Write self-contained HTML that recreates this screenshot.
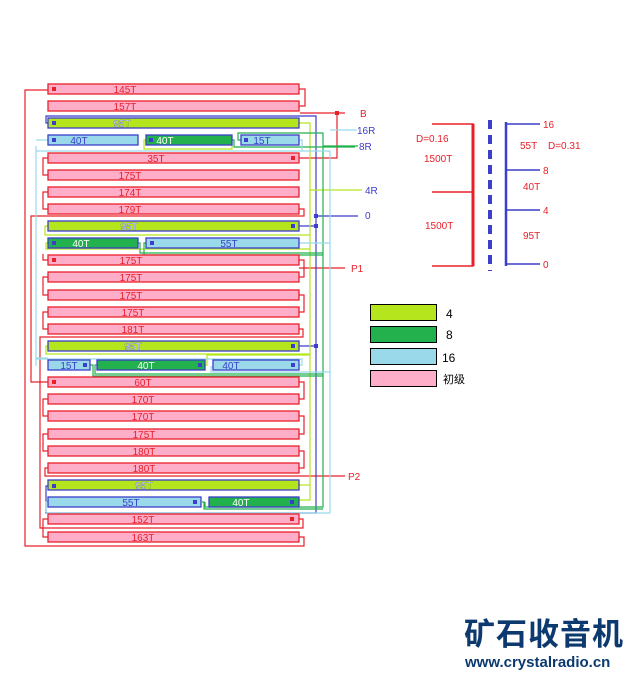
<!DOCTYPE html>
<html><head><meta charset="utf-8"><style>
html,body{margin:0;padding:0;background:#fff;width:631px;height:675px;overflow:hidden}
svg{display:block}
text{font-family:"Liberation Sans","Noto Sans CJK SC",sans-serif}
</style></head><body>
<svg width="631" height="675" viewBox="0 0 631 675" xmlns="http://www.w3.org/2000/svg">
<g fill="none" stroke-width="1.2">
<!-- red wires -->
<g stroke="#e8202a">
<polyline points="48,90 25,90 25,546 304,546 304,537 299,537"/>
<polyline points="299,89 305,89 305,106 299,106"/>
<polyline points="300,113 345,113"/>
<polyline points="299,158 337,158 337,113"/>
<polyline points="48,158 43,158 43,175 48,175"/>
<polyline points="48,192 43,192 43,209 48,209"/>
<polyline points="299,209 304,209 304,216 31,216 31,382 48,382"/>
<polyline points="48,260 43,260 43,254"/>
<polyline points="299,260 304,260 304,277 299,277"/>
<polyline points="299,268 345,268"/>
<polyline points="48,277 43,277 43,295 48,295"/>
<polyline points="299,295 304,295 304,312 299,312"/>
<polyline points="48,312 43,312 43,329 48,329"/>
<polyline points="299,329 303,329 303,337 40,337 40,528 303,528 303,519 299,519"/>
<polyline points="299,382 304,382 304,399 299,399"/>
<polyline points="48,399 43,399 43,416 48,416"/>
<polyline points="299,416 304,416 304,434 299,434"/>
<polyline points="48,434 43,434 43,451 48,451"/>
<polyline points="299,451 304,451 304,468 299,468"/>
<polyline points="48,468 45,468 45,476 345,476"/>
<polyline points="48,519 43,519 43,537 48,537"/>
</g>
<!-- blue -->
<g stroke="#3b3fc9">
<polyline points="48,123 46,123 46,116 316,116 316,513 46,513 46,486 48,486"/>
<polyline points="299,226 316,226"/>
<polyline points="316,216 358,216"/>
<polyline points="299,346 316,346"/>
</g>
<!-- lime -->
<g stroke="#b5e61d">
<polyline points="299,123 310,123 310,500 299,500"/>
<polyline points="48,226 45,226 45,235 310,235"/>
<polyline points="48,243 46,243 46,249 310,249"/>
<polyline points="310,190 362,190"/>
<polyline points="146,140 144,140 144,149 232,149 232,142"/>
<polyline points="48,346 46,346 46,354 310,354"/>
<polyline points="205,365 207,365 207,355 310,355"/>
<polyline points="310,485 299,485"/>
</g>
<!-- green -->
<g stroke="#22b14c">
<polyline points="232,140 234,140 234,147 355,147"/>
<polyline points="241,140 238,140 238,133 323,133 323,507 205,507 205,502"/>
<polyline points="138,243 140,243 140,253 323,253"/>
<polyline points="146,243 144,243 144,255 323,255"/>
<polyline points="97,365 95,365 95,374 323,374"/>
<polyline points="90,365 93,365 93,376 323,376"/>
<polyline points="202,502 204,502 204,509 323,509"/>
</g>
<!-- light blue -->
<g stroke="#99d9ea">
<polyline points="36,366 36,151 330,151 330,513 46,513"/>
<polyline points="330,130 357,130"/>
<polyline points="48,140 36,140"/>
<polyline points="299,140 302,140 302,151"/>
<polyline points="36,151 36,146"/>
<polyline points="299,243 330,243"/>
<polyline points="36,358 48,358"/>
<polyline points="299,365 302,365 302,359 36,359"/>
<polyline points="213,367 211,367 211,372 330,372"/>
<polyline points="48,502 46,502 46,512"/>
</g>
<polyline points="323,146 358,146" stroke="#22b14c"/>
</g>
<!-- bars -->
<g stroke-width="1.3">
<g fill="#ffaec9" stroke="#e8202a">
<rect x="48" y="84" width="251" height="10"/><rect x="48" y="101" width="251" height="10"/>
<rect x="48" y="153" width="251" height="10"/><rect x="48" y="170" width="251" height="10"/>
<rect x="48" y="187" width="251" height="10"/><rect x="48" y="204" width="251" height="10"/>
<rect x="48" y="255" width="251" height="10"/><rect x="48" y="272" width="251" height="10"/>
<rect x="48" y="290" width="251" height="10"/><rect x="48" y="307" width="251" height="10"/>
<rect x="48" y="324" width="251" height="10"/><rect x="48" y="377" width="251" height="10"/>
<rect x="48" y="394" width="251" height="10"/><rect x="48" y="411" width="251" height="10"/>
<rect x="48" y="429" width="251" height="10"/><rect x="48" y="446" width="251" height="10"/>
<rect x="48" y="463" width="251" height="10"/><rect x="48" y="514" width="251" height="10"/>
<rect x="48" y="532" width="251" height="10"/>
</g>
<g stroke="#3b3fc9">
<rect x="48" y="118" width="251" height="10" fill="#b5e61d"/>
<rect x="48" y="221" width="251" height="10" fill="#b5e61d"/>
<rect x="48" y="341" width="251" height="10" fill="#b5e61d"/>
<rect x="48" y="480" width="251" height="10" fill="#b5e61d"/>
<rect x="48" y="135" width="90" height="10" fill="#99d9ea"/>
<rect x="146" y="135" width="86" height="10" fill="#22b14c"/>
<rect x="241" y="135" width="58" height="10" fill="#99d9ea"/>
<rect x="48" y="238" width="90" height="10" fill="#22b14c"/>
<rect x="146" y="238" width="153" height="10" fill="#99d9ea"/>
<rect x="48" y="360" width="42" height="10" fill="#99d9ea"/>
<rect x="97" y="360" width="108" height="10" fill="#22b14c"/>
<rect x="213" y="360" width="86" height="10" fill="#99d9ea"/>
<rect x="48" y="497" width="153" height="10" fill="#99d9ea"/>
<rect x="209" y="497" width="90" height="10" fill="#22b14c"/>
</g>
</g>
<!-- dots -->
<g fill="#e8202a"><rect x="52" y="87" width="4" height="4"/><rect x="291" y="156" width="4" height="4"/><rect x="52" y="258" width="4" height="4"/><rect x="52" y="380" width="4" height="4"/><rect x="290" y="517" width="4" height="4"/><rect x="335" y="111" width="4" height="4"/></g>
<g fill="#3b3fc9"><rect x="52" y="121" width="4" height="4"/><rect x="52" y="138" width="4" height="4"/><rect x="149" y="138" width="4" height="4"/><rect x="244" y="138" width="4" height="4"/><rect x="291" y="224" width="4" height="4"/><rect x="52" y="241" width="4" height="4"/><rect x="150" y="241" width="4" height="4"/><rect x="291" y="344" width="4" height="4"/><rect x="83" y="363" width="4" height="4"/><rect x="198" y="363" width="4" height="4"/><rect x="291" y="363" width="4" height="4"/><rect x="52" y="484" width="4" height="4"/><rect x="193" y="500" width="4" height="4"/><rect x="290" y="500" width="4" height="4"/><rect x="314" y="214" width="4" height="4"/><rect x="314" y="224" width="4" height="4"/><rect x="314" y="344" width="4" height="4"/></g>
<!-- bar labels -->
<g font-size="10" fill="#e8202a" text-anchor="middle">
<text x="125" y="93">145T</text><text x="125" y="110">157T</text><text x="156" y="162">35T</text>
<text x="130" y="179">175T</text><text x="130" y="196">174T</text><text x="130" y="213">179T</text>
<text x="131" y="264">175T</text><text x="131" y="281">175T</text><text x="131" y="299">175T</text>
<text x="133" y="316">175T</text><text x="133" y="333">181T</text><text x="143" y="386">60T</text>
<text x="143" y="403">170T</text><text x="143" y="420">170T</text><text x="144" y="438">175T</text>
<text x="144" y="455">180T</text><text x="144" y="472">180T</text><text x="143" y="523">152T</text><text x="143" y="541">163T</text>
</g>
<g font-size="10" fill="#3b3fc9" text-anchor="middle">
<text x="122" y="127" fill="#fff" stroke="#3b3fc9" stroke-width="0.3">95T</text>
<text x="79" y="144">40T</text><text x="165" y="144" fill="#fff">40T</text><text x="262" y="144">15T</text>
<text x="129" y="230" fill="#fff" stroke="#3b3fc9" stroke-width="0.3">95T</text>
<text x="81" y="247" fill="#fff">40T</text><text x="229" y="247">55T</text>
<text x="133" y="350" fill="#fff" stroke="#3b3fc9" stroke-width="0.3">95T</text>
<text x="69" y="369">15T</text><text x="146" y="369" fill="#fff">40T</text><text x="231" y="369">40T</text>
<text x="144" y="489" fill="#fff" stroke="#3b3fc9" stroke-width="0.3">95T</text>
<text x="131" y="506">55T</text><text x="241" y="506" fill="#fff">40T</text>
</g>
<g font-size="10">
<text x="360" y="117" fill="#e8202a">B</text>
<text x="357" y="134" fill="#3b3fc9">16R</text>
<text x="359" y="150" fill="#3b3fc9">8R</text>
<text x="365" y="194" fill="#3b3fc9">4R</text>
<text x="365" y="219" fill="#3b3fc9">0</text>
<text x="351" y="272" fill="#e8202a">P1</text>
<text x="348" y="480" fill="#e8202a">P2</text>
</g>
<!-- schematic -->
<g stroke-width="1.5" fill="none">
<polyline points="432,124 473,124 473,266 432,266" stroke="#e8202a"/>
<line x1="473" y1="124" x2="473" y2="266" stroke="#e8202a" stroke-width="3"/>
<line x1="432" y1="192" x2="473" y2="192" stroke="#e8202a"/>
<line x1="490" y1="120" x2="490" y2="271" stroke="#3b3fc9" stroke-width="4" stroke-dasharray="9,6"/>
<line x1="506" y1="122" x2="506" y2="266" stroke="#3b3fc9" stroke-width="2.5"/>
<g stroke="#3b3fc9"><line x1="506" y1="124" x2="540" y2="124"/><line x1="506" y1="170" x2="540" y2="170"/><line x1="506" y1="210" x2="540" y2="210"/><line x1="506" y1="264" x2="540" y2="264"/></g>
</g>
<g font-size="10" fill="#e8202a">
<text x="416" y="142">D=0.16</text><text x="424" y="162">1500T</text><text x="425" y="229">1500T</text>
<text x="520" y="149">55T</text><text x="548" y="149">D=0.31</text><text x="523" y="190">40T</text><text x="523" y="239">95T</text>
<text x="543" y="128">16</text><text x="543" y="174">8</text><text x="543" y="214">4</text><text x="543" y="268">0</text>
</g>
<!-- legend -->
<g stroke="#000" stroke-width="1">
<rect x="370.5" y="304.5" width="66" height="16" fill="#b5e61d"/>
<rect x="370.5" y="326.5" width="66" height="16" fill="#22b14c"/>
<rect x="370.5" y="348.5" width="66" height="16" fill="#99d9ea"/>
<rect x="370.5" y="370.5" width="66" height="16" fill="#ffaec9"/>
</g>
<g font-size="12" fill="#000"><text x="446" y="318">4</text><text x="446" y="339">8</text><text x="442" y="362">16</text><text x="443" y="383" font-size="11">初级</text></g>
<!-- logo -->
<text x="464" y="645" font-size="31" font-weight="bold" fill="#0d3a6e" letter-spacing="1">矿石收音机</text>
<text x="465" y="667" font-size="15" font-weight="bold" fill="#0d3a6e">www.crystalradio.cn</text>
</svg>
</body></html>
